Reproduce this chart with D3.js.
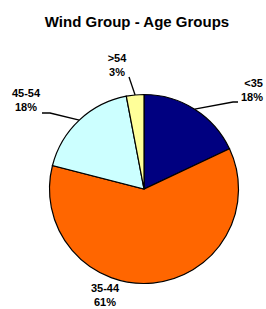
<!DOCTYPE html>
<html>
<head>
<meta charset="utf-8">
<script src="https://cdn.jsdelivr.net/npm/d3@7"></script>
<style>
  body { margin: 0; background: #fff; }
  text { font-family: "Liberation Sans", Arial, sans-serif; font-weight: bold; }
</style>
</head>
<body>
<div id="chart"></div>
<script>
// data
var categories = ["<35", "35-44", "45-54", ">54"];
var shares = [18, 61, 18, 3];
var colors = ["#000080", "#FF6600", "#CCFFFF", "#FFFF99"];

var width = 266, height = 309;
var cx = 144, cy = 189, radius = 94.5;

var svg = d3.select("#chart")
  .append("svg")
    .attr("width", width)
    .attr("height", height);

// title
svg.append("text")
    .attr("x", 137)
    .attr("y", 27)
    .attr("text-anchor", "middle")
    .style("font-size", "15px")
    .text("Wind Group - Age Groups");

var pie = d3.pie().sort(null).value(function(d) { return d; });
var arcs = pie(shares);

var arc = d3.arc().innerRadius(0).outerRadius(radius);

var g = svg.append("g")
    .attr("transform", "translate(" + cx + "," + cy + ")");

g.selectAll("path")
  .data(arcs)
  .enter()
  .append("path")
    .attr("d", arc)
    .style("fill", function(d, i) { return colors[i]; })
    .style("stroke", "#000")
    .style("stroke-width", 1.2);

// label layout relative to centre: text anchor, first baseline, leader points
var labelPos = [
  {x: 119, y: -102, anchor: "end", leader: [[89, -87], [94, -87]]},
  {x: -39, y: 103, anchor: "middle", leader: null},
  {x: -118, y: -92, anchor: "middle", leader: [[-94, -76], [-102, -76]]},
  {x: -27, y: -127, anchor: "middle", leader: [[-15, -112]]}
];

arcs.forEach(function(d, i) {
  var mid = (d.startAngle + d.endAngle) / 2;
  var p = labelPos[i];
  var edge = [Math.sin(mid) * radius, -Math.cos(mid) * radius];
  if (p.leader) {
    g.append("polyline")
      .attr("points", [edge].concat(p.leader).map(function(q) { return q.join(","); }).join(" "))
      .style("fill", "none")
      .style("stroke", "#000")
      .style("stroke-width", 1.3);
  }
  var t = g.append("text")
      .attr("text-anchor", p.anchor)
      .style("font-size", "11px");
  t.append("tspan").attr("x", p.x).attr("y", p.y).text(categories[i]);
  t.append("tspan").attr("x", p.x).attr("y", p.y + 14).text(shares[i] + "%");
});
</script>
</body>
</html>
